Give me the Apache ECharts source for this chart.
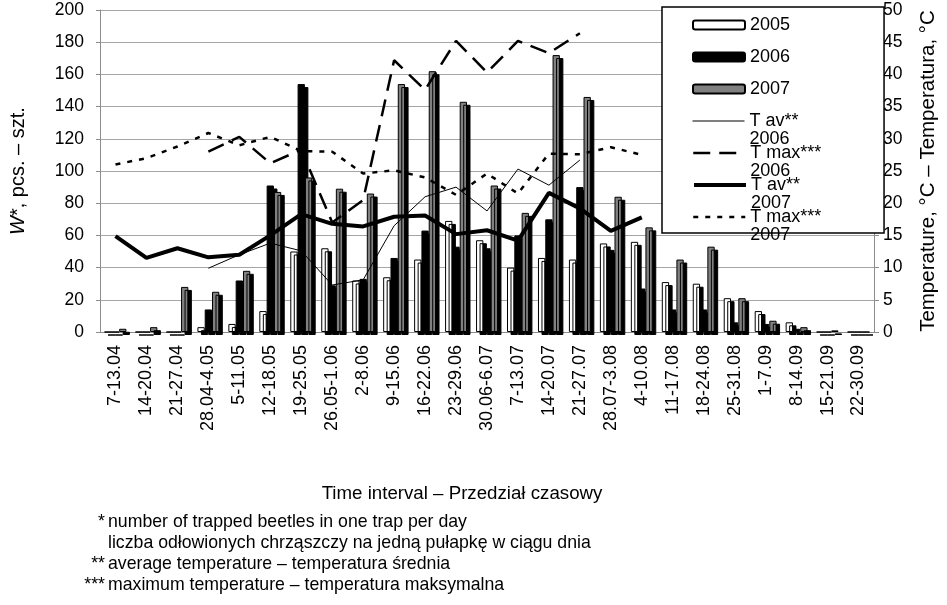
<!DOCTYPE html>
<html>
<head>
<meta charset="utf-8">
<script src="https://cdn.jsdelivr.net/npm/echarts@6/dist/echarts.min.js"></script>
<style>html,body{margin:0;padding:0;background:#fff;}#c{width:947px;height:605px;}</style>
</head>
<body>
<div id="c"></div>
<script>
const categories = ['7-13.04','14-20.04','21-27.04','28.04-4.05','5-11.05','12-18.05','19-25.05','26.05-1.06','2-8.06','9-15.06','16-22.06','23-29.06','30.06-6.07','7-13.07','14-20.07','21-27.07','28.07-3.08','4-10.08','11-17.08','18-24.08','25-31.08','1-7.09','8-14.09','15-21.09','22-30.09'];
const beetles2005 = [0,0,0,3,5,13,50,52,32,34,45,69,57,40,46,45,55,56,31,30,21,13,6,0,0];
const beetles2006 = [0,0,0,14,32,91,154,29,33,46,63,53,52,60,70,90,51,27,14,14,6,5,2,0,0];
const beetles2007 = [2,3,28,25,38,87,96,89,86,154,162,143,91,74,172,146,84,65,45,53,21,7,3,1,0];
const tAv2006  = [null,null,null,9.9,12.0,13.8,12.6,7.3,8.1,16.5,21.0,22.5,18.8,25.3,22.8,26.7,null,null,null,null,null,null,null,null,null];
const tMax2006 = [null,null,null,28.0,30.3,26.2,28.3,17.0,20.5,42.2,37.6,45.2,40.3,45.2,43.3,46.4,null,null,null,null,null,null,null,null,null];
const tAv2007  = [14.9,11.5,13.0,11.6,12.0,15.0,18.3,16.8,16.4,17.9,18.1,15.2,15.8,14.2,21.6,19.2,15.7,17.8,null,null,null,null,null,null,null];
const tMax2007 = [26.0,27.0,28.8,30.9,29.0,30.3,28.1,28.0,24.6,25.1,24.0,21.3,24.6,21.5,27.7,27.6,28.7,27.5,null,null,null,null,null,null,null];
const leftTicks = {min: 0, max: 200, interval: 20};
const rightTicks = {min: 0, max: 50, interval: 5};
const barNames = ['2005', '2006', '2007'];
const lineNames = ['T av** 2006', 'T max*** 2006', 'T av** 2007', 'T max*** 2007'];
const footnotes = [
  ['*', 'number of trapped beetles in one trap per day'],
  ['', 'liczba odłowionych chrząszczy na jedną pułapkę w ciągu dnia'],
  ['**', 'average temperature – temperatura średnia'],
  ['***', 'maximum temperature – temperatura maksymalna']
];

const FONT = 'Liberation Sans, Arial, sans-serif';
const FS = 18;
const chart = echarts.init(document.getElementById('c'), null, {renderer: 'canvas'});

const barShadow = {shadowColor: '#000', shadowBlur: 0, shadowOffsetX: 3.5, shadowOffsetY: 3};
function barSeries(name, data, color, border) {
  return {
    name: name, type: 'bar', data: data, barWidth: 7.3, barGap: '0%',
    itemStyle: Object.assign({color: color, borderColor: border, borderWidth: 1}, barShadow)
  };
}
const lineStyles = [
  {width: 1, type: 'solid'},
  {width: 2.5, type: [17, 9]},
  {width: 4, type: 'solid'},
  {width: 2.5, type: [5, 7]}
];
function lineSeries(i, data) {
  return {
    name: lineNames[i], type: 'line', yAxisIndex: 1, data: data, symbol: 'none', z: 5,
    connectNulls: false,
    itemStyle: {color: 'rgba(0,0,0,0)'},
    lineStyle: {color: '#000', width: lineStyles[i].width, type: lineStyles[i].type}
  };
}

const legendCenters = [121, 153, 185, 217];
const legends = [{
  orient: 'vertical', left: 662, top: 7,
  padding: [9, 94, 135, 30],
  backgroundColor: '#fff', borderColor: '#000', borderWidth: 1.5,
  itemWidth: 52, itemHeight: 9, itemGap: 14, selectedMode: false,
  textStyle: {fontSize: FS, fontFamily: FONT, color: '#000', lineHeight: 18},
  itemStyle: {shadowColor: 'rgba(0,0,0,0)', shadowOffsetX: 0, shadowOffsetY: 0},
  data: barNames, z: 10
}];
lineNames.forEach(function (n, i) {
  legends.push({
    orient: 'vertical', left: 692, top: legendCenters[i] - 27, padding: 0,
    itemWidth: 52, itemHeight: 9, itemGap: 0, selectedMode: false,
    textStyle: {fontSize: FS, fontFamily: FONT, color: '#000', lineHeight: 18},
    lineStyle: {width: lineStyles[i].width, type: lineStyles[i].type, color: '#000'},
    formatter: function (name) { return ' \n' + name.replace(' 20', '\n20'); },
    data: [n], z: 11
  });
});

const graphics = [];
footnotes.forEach(function (f, i) {
  const y = 522 + i * 21;
  if (f[0]) graphics.push({type: 'text', x: 105, y: y, style: {text: f[0], align: 'right', verticalAlign: 'middle', font: '17.7px ' + FONT, fill: '#000'}});
  graphics.push({type: 'text', x: 108, y: y, style: {text: f[1], align: 'left', verticalAlign: 'middle', font: '17.7px ' + FONT, fill: '#000'}});
});

chart.setOption({
  animation: false,
  backgroundColor: '#fff',
  textStyle: {fontFamily: FONT, fontSize: FS, color: '#000'},
  grid: {left: 96, right: 63, top: 10, bottom: 273, containLabel: false},
  legend: legends,
  xAxis: {
    type: 'category', data: categories, boundaryGap: true,
    axisLine: {lineStyle: {color: '#8c8c8c', width: 1}},
    axisTick: {show: false},
    axisLabel: {rotate: 90, margin: 13, fontSize: FS, color: '#000', interval: 0, fontFamily: FONT},
    name: 'Time interval – Przedział czasowy', nameLocation: 'middle', nameGap: 152,
    nameTextStyle: {fontSize: 18.7, color: '#000', padding: [0, 50, 0, 0], fontFamily: FONT}
  },
  yAxis: [
    {
      type: 'value', min: leftTicks.min, max: leftTicks.max, interval: leftTicks.interval,
      axisLine: {show: true, lineStyle: {color: '#8c8c8c'}},
      axisTick: {show: true, length: 4, lineStyle: {color: '#8c8c8c'}},
      splitLine: {show: true, lineStyle: {color: '#a6a6a6', width: 1}},
      axisLabel: {margin: 16, fontSize: 17.5, color: '#000', fontFamily: FONT},
      name: '{i|W}*, pcs. – szt.', nameLocation: 'middle', nameGap: 72, nameRotate: 90,
      nameTextStyle: {fontSize: 20, color: '#000', fontFamily: FONT,
        rich: {i: {fontStyle: 'italic', fontSize: 20, fontFamily: FONT, color: '#000'}}}
    },
    {
      type: 'value', min: rightTicks.min, max: rightTicks.max, interval: rightTicks.interval,
      position: 'right',
      axisLine: {show: true, lineStyle: {color: '#8c8c8c'}},
      axisTick: {show: true, length: 5, lineStyle: {color: '#8c8c8c'}},
      splitLine: {show: false},
      axisLabel: {margin: 9, fontSize: 17.5, color: '#000', fontFamily: FONT},
      name: 'Temperature, °C – Temperatura, °C', nameLocation: 'middle', nameGap: 44, nameRotate: 90,
      nameTextStyle: {fontSize: 20.5, color: '#000', fontFamily: FONT}
    }
  ],
  series: [
    barSeries('2005', beetles2005, '#ffffff', '#000'),
    barSeries('2006', beetles2006, '#000000', '#000'),
    barSeries('2007', beetles2007, '#808080', '#000'),
    lineSeries(0, tAv2006),
    lineSeries(1, tMax2006),
    lineSeries(2, tAv2007),
    lineSeries(3, tMax2007)
  ],
  graphic: graphics
});
</script>
</body>
</html>
